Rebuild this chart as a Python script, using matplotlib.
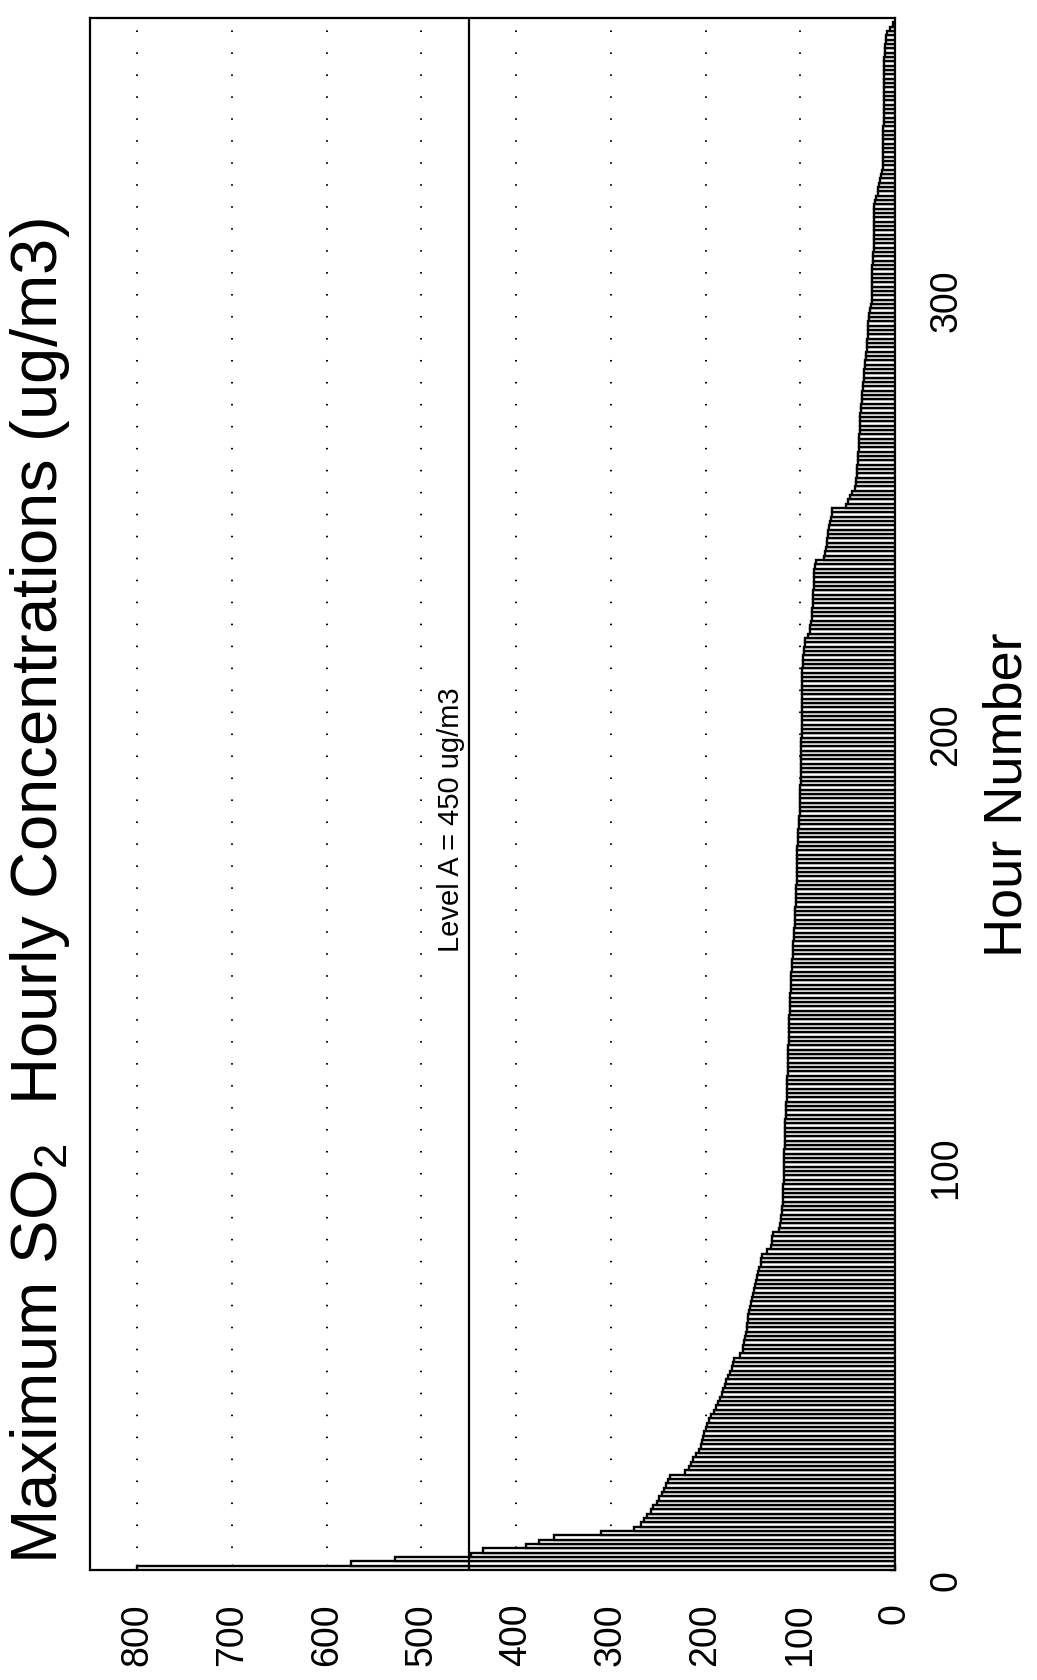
import matplotlib
matplotlib.use("Agg")
import matplotlib.pyplot as plt
import numpy as np

plt.rcParams['font.family'] = ['Liberation Sans', 'DejaVu Sans']
plt.rcParams['mathtext.fontset'] = 'custom'
plt.rcParams['mathtext.rm'] = 'Liberation Sans'

# max hourly SO2 concentration per hour, sorted high -> low (ug/m3)
so2_values = [
    800, 574, 528, 448, 435, 390, 376, 360, 310, 276, 268, 265, 262, 258, 255, 251, 249, 246, 244, 242,
    240, 238, 222, 218, 215, 213, 210, 207, 205, 204, 203, 202, 200, 198, 196, 194, 191, 189, 187, 185,
    183, 182, 180, 178, 176, 174, 172, 171, 170, 164, 161, 160, 159, 158, 157, 156, 156, 155, 155, 154,
    153, 152, 151, 150, 149, 148, 147, 146, 145, 144, 142, 141, 140, 135, 131, 130, 130, 129, 123, 121,
    120, 120, 119, 119, 118, 118, 118, 118, 118, 117, 117, 117, 117, 117, 117, 117, 117, 116, 116, 116,
    116, 116, 116, 116, 115, 115, 115, 115, 114, 114, 114, 114, 114, 114, 113, 113, 113, 113, 113, 113,
    113, 112, 112, 112, 112, 112, 112, 112, 111, 111, 111, 111, 111, 110, 110, 110, 110, 110, 109, 109,
    109, 108, 108, 108, 108, 107, 107, 107, 106, 106, 106, 106, 106, 105, 105, 105, 105, 105, 104, 104,
    104, 104, 103, 103, 103, 103, 103, 102, 102, 102, 102, 101, 101, 101, 100, 100, 100, 100, 100, 100,
    100, 99, 99, 99, 99, 99, 99, 99, 99, 99, 99, 99, 98, 98, 98, 98, 98, 98, 98, 98,
    98, 98, 98, 98, 98, 98, 98, 98, 97, 97, 97, 96, 96, 95, 95, 92, 90, 90, 89, 88,
    88, 88, 87, 87, 87, 87, 86, 86, 86, 85, 85, 84, 83, 75, 74, 73, 72, 72, 71, 71,
    70, 69, 68, 67, 67, 52, 50, 48, 45, 42, 41, 41, 40, 40, 40, 39, 39, 39, 38, 38,
    38, 38, 37, 37, 37, 37, 37, 36, 36, 35, 35, 35, 34, 34, 33, 33, 33, 32, 32, 31,
    31, 30, 30, 30, 29, 29, 28, 28, 27, 27, 26, 25, 24, 24, 24, 24, 24, 24, 24, 24,
    24, 23, 23, 23, 22, 22, 22, 22, 22, 22, 22, 22, 22, 22, 22, 21, 20, 18, 18, 17,
    16, 15, 14, 13, 13, 13, 13, 13, 13, 13, 13, 13, 13, 12, 12, 12, 12, 12, 12, 12,
    12, 12, 12, 12, 12, 12, 12, 12, 12, 11, 11, 11, 10, 10, 8, 5, 2,
]
hour_ticks = [0, 100, 200, 300]
conc_ticks = [0, 100, 200, 300, 400, 500, 600, 700, 800]
level_a = 450
level_label = "Level A = 450 ug/m3"
title = r"Maximum SO$_2$  Hourly Concentrations (ug/m3)"

hours = np.arange(len(so2_values))

fig = plt.figure(figsize=(10.37, 16.8), dpi=100)
ax = fig.add_axes([90/1037, 110/1680, 805/1037, 1552/1680])

ax.barh(hours, so2_values, height=1.0, align='edge', color='white',
        edgecolor='black', linewidth=1.7, zorder=3)
ax.axvline(level_a, color='black', lw=1.6, zorder=4)
ax.text(level_a + 4, 173, level_label, rotation=90, ha='right', va='center',
        fontsize=21, zorder=5)

ax.set_xlim(850, 0)
ax.set_ylim(0, 358)
ax.set_xticks(conc_ticks)
ax.set_yticks(hour_ticks)
ax.grid(axis='x', linestyle=(0, (0.8, 10.5)), color='black', lw=1.4)
ax.set_axisbelow(True)

ax.yaxis.tick_right()
ax.tick_params(axis='x', direction='in', length=4, width=1, labelsize=27,
               pad=24, labelrotation=90)
ax.tick_params(axis='y', direction='in', length=4, width=1, labelsize=27,
               pad=24, labelrotation=90)
for t in ax.get_yticklabels():
    t.set_va('top')
for s in ax.spines.values():
    s.set_linewidth(1.6)

fig.text(40/1037, (1680-1564)/1680, title, rotation=90, ha='center', va='bottom',
         fontsize=47)
fig.text(1007/1037, (1680-795)/1680, "Hour Number", rotation=90, ha='center',
         va='center', fontsize=39)

fig.savefig("out.png", dpi=100, facecolor='white')
